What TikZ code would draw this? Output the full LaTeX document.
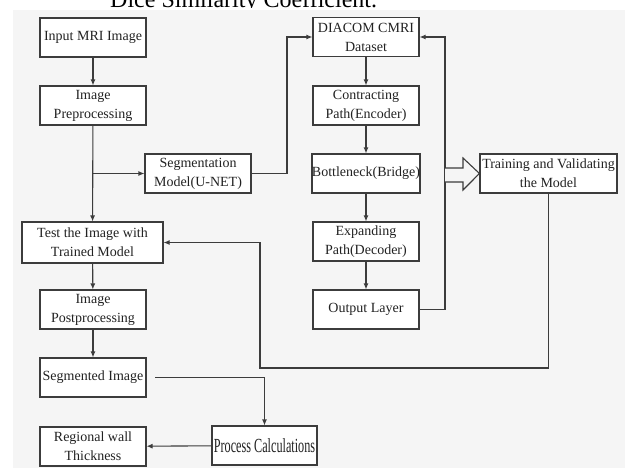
\documentclass[tikz,border=0pt]{standalone}
\usepackage{fontspec}
\setmainfont{Liberation Serif}
\usetikzlibrary{arrows.meta}
\definecolor{bgcol}{HTML}{F5F5F5}
\definecolor{lincol}{HTML}{3C3C3C}
\definecolor{txtcol}{HTML}{222222}
\tikzset{
  box/.style={draw=lincol, fill=white, line width=1.1pt, minimum width=106pt, minimum height=39pt,
    inner sep=0pt, align=center, text=txtcol, font=\fontsize{14}{19}\selectfont},
  link/.style={draw=lincol, line width=1.1pt},
  arr/.style={link, -{Latex[length=6pt,width=5pt]}}
}
\begin{document}
\begin{tikzpicture}[x=1pt,y=-1pt]
\useasboundingbox (0,0) rectangle (625,469);
\fill[bgcol] (13,10) rectangle (625,468); % page
\begin{scope}
\clip (0,0) rectangle (625,7);
\node[anchor=base west, inner sep=0pt, font=\fontsize{24}{24}\selectfont] (title) at (110,7.5) {Dice Similarity Coefficient.};
\end{scope}
% left column
\node[box] (inp) at (93,37.5) {Input MRI Image};
\node[box] (pre) at (93,105.5) {Image\\Preprocessing};
\node[box] (seg) at (198,173.5) {Segmentation\\Model(U-NET)};
\node[box, minimum width=141pt, minimum height=41pt] (test) at (92.5,242.5) {Test the Image with\\Trained Model};
\node[box] (post) at (93,309.5) {Image\\Postprocessing};
\node[box] (segimg) at (93,377.5) {Segmented Image};
\node[box] (wall) at (93,446.5) {Regional wall\\Thickness};
\node[box, minimum width=105pt] (proc) at (264.5,445.5) {\scalebox{0.61}[1]{\fontsize{20}{20}\selectfont Process Calculations}};
% U-NET column
\node[box] (dia) at (366,37) {DIACOM CMRI\\Dataset};
\node[box] (con) at (366,105.5) {Contracting\\Path(Encoder)};
\node[box] (bot) at (366,173.5) {Bottleneck(Bridge)};
\node[box] (exp) at (366,241.5) {Expanding\\Path(Decoder)};
\node[box] (outl) at (366,309.5) {Output Layer};
\node[box, minimum width=137pt] (train) at (548.5,173.5) {Training and Validating\\the Model};
% corners
\coordinate (split) at (93,173.5);
\coordinate (up) at (287,173.5);
\coordinate (back) at (445,309.5);
\coordinate (down) at (260,368);
\coordinate (segout) at (155,377.5);
% links
\draw[arr] (inp) -- (pre);
\draw[arr] (pre) -- (test);
\draw[arr] (split) -- (seg);
\draw[arr] (seg) -- (up) |- (dia);
\draw[arr] (dia) -- (con);
\draw[arr] (con) -- (bot);
\draw[arr] (bot) -- (exp);
\draw[arr] (exp) -- (outl);
\draw[arr] (outl) -- (back) |- (dia);
\draw[link, fill=bgcol] (445,168) -- (463,168) -- (463,158) -- (train.west) -- (463,190) -- (463,182) -- (445,182); % open arrow
\draw[arr] (train.south) |- (down) |- (test);
\draw[arr] (test) -- (post);
\draw[arr] (post) -- (segimg);
\draw[arr] (segout) -| (proc);
\draw[arr] (proc) -- (wall);
\end{tikzpicture}
\end{document}
